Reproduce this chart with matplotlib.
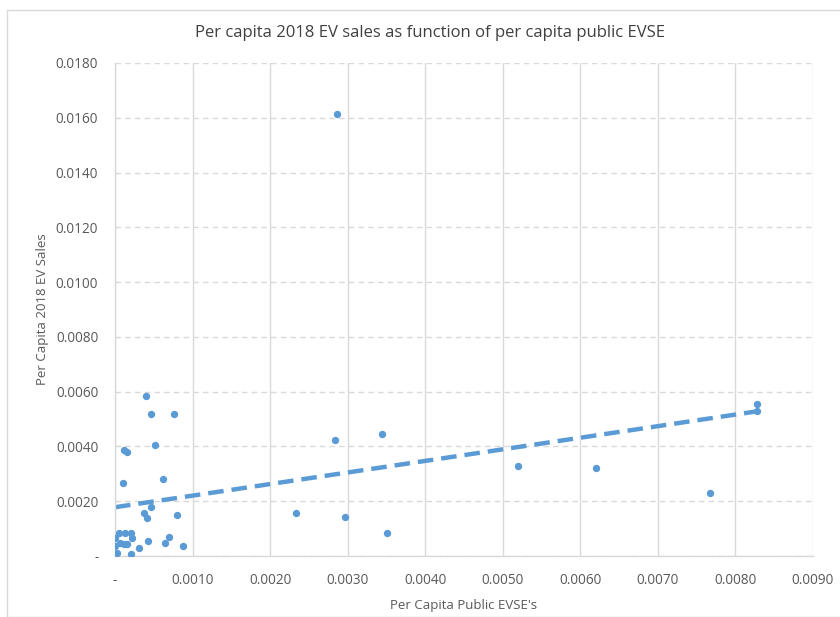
import numpy as np
import matplotlib.pyplot as plt
from matplotlib.ticker import FuncFormatter, MultipleLocator
from matplotlib.patches import Rectangle

# 1인당 공공 충전기 (x) / 1인당 2018 EV 판매 (y)
evse_per_capita = [
    0.00005, 0.00013, 0.00021, 0.00000, 0.00022, 0.00006, 0.00011, 0.00015,
    0.00000, 0.00002, 0.00021, 0.00031, 0.00043, 0.00064, 0.00069, 0.00088,
    0.00040, 0.00046, 0.00076, 0.00011, 0.00015, 0.00052, 0.00010, 0.00062,
    0.00047, 0.00038, 0.00041, 0.00080,
    0.00284, 0.00344, 0.00233, 0.00296, 0.00351, 0.00286,
    0.00519, 0.00620, 0.00767, 0.00828, 0.00828,
]
ev_sales_per_capita = [
    0.00085, 0.00083, 0.00083, 0.00065, 0.00065, 0.00047, 0.00044, 0.00044,
    0.00036, 0.00012, 0.00006, 0.00030, 0.00056, 0.00049, 0.00070, 0.00036,
    0.00584, 0.00517, 0.00517, 0.00387, 0.00381, 0.00405, 0.00268, 0.00280,
    0.00180, 0.00156, 0.00140, 0.00150,
    0.00423, 0.00445, 0.00156, 0.00143, 0.00083, 0.01613,
    0.00330, 0.00321, 0.00229, 0.00554, 0.00530,
]

blue = '#5B9BD5'
grid_color = '#D9D9D9'
text_color = '#595959'

plt.rcParams['font.family'] = ['Open Sans', 'DejaVu Sans']

fig = plt.figure(figsize=(8.4, 6.17), dpi=100)
ax = fig.add_axes([115 / 840, 61 / 617, 698 / 840, 493 / 617])

# 외곽 테두리
fig.patches.append(Rectangle((7 / 840, 0.0), 1.0, 1 - 10 / 617, transform=fig.transFigure,
                             fill=False, edgecolor=grid_color, linewidth=1))

x = np.array(evse_per_capita)
y = np.array(ev_sales_per_capita)
ax.scatter(x, y, s=28, color=blue, zorder=3, linewidths=0)

# 선형 추세선
slope, intercept = np.polyfit(x, y, 1)
xs = np.array([0, x.max()])
ax.plot(xs, intercept + slope * xs, color=blue, linewidth=3.2, dashes=(3.5, 1.8),
        solid_capstyle='round', zorder=2)

ax.set_xlim(0, 0.009)
ax.set_ylim(0, 0.018)
ax.xaxis.set_major_locator(MultipleLocator(0.001))
ax.yaxis.set_major_locator(MultipleLocator(0.002))

def fmt(v, pos):
    if abs(v) < 1e-9:
        return '-'
    return f'{v:.4f}'

ax.xaxis.set_major_formatter(FuncFormatter(fmt))
ax.yaxis.set_major_formatter(FuncFormatter(fmt))

ax.grid(axis='x', color=grid_color, linewidth=1, linestyle='-')
ax.grid(axis='y', color=grid_color, linewidth=1, linestyle=(0, (4, 3)))
ax.set_axisbelow(True)

for s in ['top', 'right']:
    ax.spines[s].set_visible(False)
for s in ['left', 'bottom']:
    ax.spines[s].set_color(grid_color)
    ax.spines[s].set_linewidth(1)

ax.tick_params(length=0, labelsize=9.8, labelcolor=text_color, pad=12)

# 제목은 차트 영역 가운데
fig.text(430 / 840, 1 - 33 / 617, 'Per capita 2018 EV sales as function of per capita public EVSE',
         fontsize=12, color='#404040', ha='center', va='center')
ax.set_xlabel("Per Capita Public EVSE's", fontsize=9.5, color=text_color, labelpad=8)
ax.set_ylabel('Per Capita 2018 EV Sales', fontsize=9.5, color=text_color, labelpad=5)

fig.savefig('out.png', dpi=100)
